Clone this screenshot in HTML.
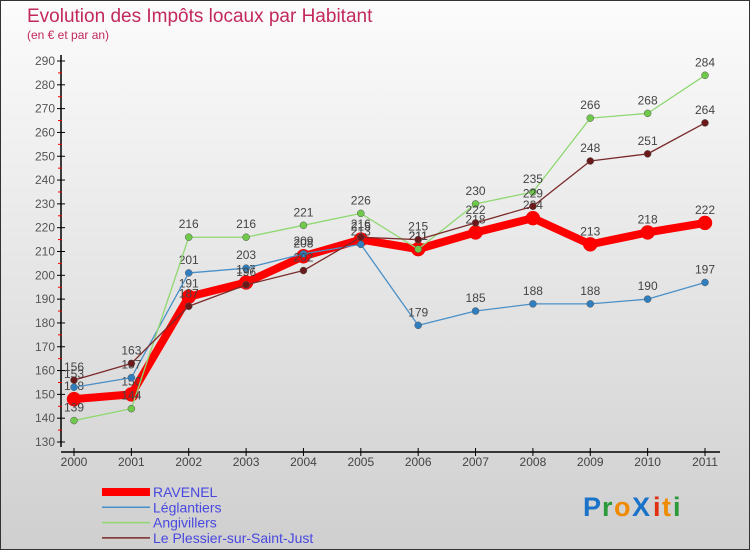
<!DOCTYPE html>
<html><head><meta charset="utf-8"><style>
body{margin:0;width:750px;height:550px;overflow:hidden;font-family:"Liberation Sans",sans-serif}
svg{display:block}
</style></head><body>
<svg id="c" width="750" height="550" xmlns="http://www.w3.org/2000/svg">
<defs><linearGradient id="bg" x1="0" y1="0" x2="0" y2="1"><stop offset="0" stop-color="#fcfcfc"/><stop offset="1" stop-color="#cfcfcf"/></linearGradient></defs>
<rect x="0.5" y="0.5" width="749" height="549" fill="url(#bg)" stroke="#333"/>
<text x="27" y="22" font-size="19" fill="#c2285e">Evolution des Impôts locaux par Habitant</text>
<text x="27" y="39" font-size="12" fill="#c2285e">(en € et par an)</text>
<g id="axes"></g><g id="series"></g><g id="legend"></g>
<g font-size="27" font-family="Liberation Sans, sans-serif" font-weight="bold">
<text x="583" y="516" fill="#1a73c8">P</text><text x="602" y="516" fill="#2a9a3a">r</text><text x="614" y="516" fill="#f08a00">o</text><text x="632" y="516" fill="#1a73c8">X</text><text x="653" y="516" fill="#e03010">i</text><text x="662" y="516" fill="#f08a00">t</text><text x="673" y="516" fill="#2a9a3a">i</text>
</g>
</svg>
<script>
const years=["2000","2001","2002","2003","2004","2005","2006","2007","2008","2009","2010","2011"];
const yTicks=[130,140,150,160,170,180,190,200,210,220,230,240,250,260,270,280,290];
const seriesNames=["RAVENEL","Léglantiers","Angivillers","Le Plessier-sur-Saint-Just"];
const ravenel=[148,150,191,197,208,215,211,218,224,213,218,222];
const leglantiers=[153,157,201,203,209,213,179,185,188,188,190,197];
const angivillers=[139,144,216,216,221,226,211,230,235,266,268,284];
const plessier=[156,163,187,196,202,216,215,222,229,248,251,264];
const NS="http://www.w3.org/2000/svg";
function X(i){return 74+i*(705-74)/11;}
function Y(v){return 442-(v-130)*(442-61)/160;}
function el(t,a,p){const e=document.createElementNS(NS,t);for(const k in a)e.setAttribute(k,a[k]);p.appendChild(e);return e;}
const axes=document.getElementById('axes');
let ya=el('line',{x1:61,y1:55,x2:61,y2:447,stroke:'#000','stroke-width':1.5},axes);


yTicks.forEach((v,i)=>{
 el('line',{x1:57,y1:Y(v),x2:65,y2:Y(v),stroke:'#000'},axes);
 if(i<yTicks.length-1){el('line',{x1:58,y1:Y(v+5),x2:62,y2:Y(v+5),stroke:'#e00'},axes);}
 const t=el('text',{x:55,y:Y(v)+4,'font-size':12,fill:'#555','text-anchor':'end'},axes);t.textContent=v;
 
 
});
let xa=el('line',{x1:61,y1:452,x2:720,y2:452,stroke:'#000','stroke-width':1.5},axes);


years.forEach((y,i)=>{
 el('line',{x1:X(i),y1:448,x2:X(i),y2:456,stroke:'#000'},axes);
 const t=el('text',{x:X(i),y:466,'font-size':12,fill:'#444','text-anchor':'middle'},axes);t.textContent=y;
 
 
});
const defs=[[ravenel,'#ff0000','#ff0000',8,7,'series-ravenel'],[leglantiers,'#4a90c8','#2f7fc0',1.3,3.5,'series-leglantiers'],[angivillers,'#8fd870','#6fc94a',1.3,3.5,'series-angivillers'],[plessier,'#7a2a2a','#6a1a1a',1.3,3.5,'series-plessier']];
const sg=document.getElementById('series');
defs.forEach(d=>{
 const g=el('g',{},sg);
 
 
 el('polyline',{points:d[0].map((v,i)=>X(i)+','+Y(v)).join(' '),fill:'none',stroke:d[1],'stroke-width':d[3],'stroke-linejoin':'round'},g);
 d[0].forEach((v,i)=>{
  const c=el('circle',{cx:X(i),cy:Y(v),r:d[4],fill:d[2],stroke:d[3]>2?'#e00':'#555','stroke-width':0.5},g);
  
  
  const t=el('text',{x:X(i),y:Y(v)-9,'font-size':12,fill:'#444','text-anchor':'middle'},g);t.textContent=v;
  
  
 });
});
const lg=document.getElementById('legend');
const lc=['#ff0000','#4a90c8','#8fd870','#7a2a2a'],lw=[8,1.5,1.5,1.5];
seriesNames.forEach((n,i)=>{
 const y=492+i*15.3;
 const g=el('g',{},lg);
 
 
 el('line',{x1:102,y1:y,x2:150,y2:y,stroke:lc[i],'stroke-width':lw[i]},g);
 const t=el('text',{x:153,y:y+5,'font-size':14,fill:'#4848e0'},g);t.textContent=n;
});
</script>
</body></html>
